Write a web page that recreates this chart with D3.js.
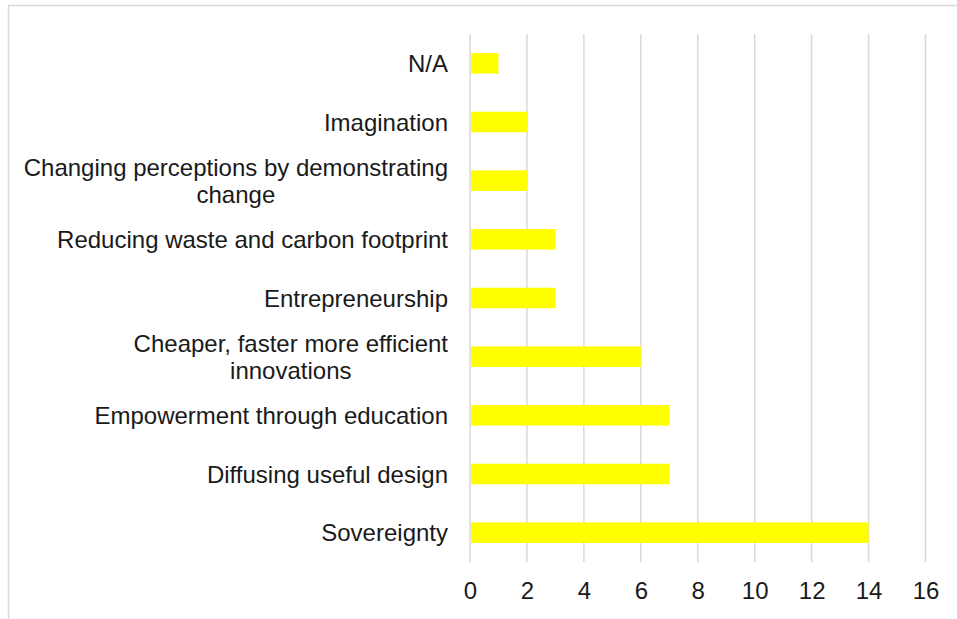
<!DOCTYPE html>
<html>
<head>
<meta charset="utf-8">
<script src="https://cdn.jsdelivr.net/npm/d3@7"></script>
<style>
  html, body { margin: 0; padding: 0; background: #fff; }
  svg { display: block; }
  text { font-family: "Liberation Sans", Arial, Helvetica, sans-serif; fill: #1a1a1a; }
</style>
</head>
<body>
<svg id="chart" width="957" height="619"></svg>
<script>
const categories = [
  "N/A",
  "Imagination",
  "Changing perceptions by demonstrating change",
  "Reducing waste and carbon footprint",
  "Entrepreneurship",
  "Cheaper, faster more efficient innovations",
  "Empowerment through education",
  "Diffusing useful design",
  "Sovereignty"
];
const labelLines = [
  ["N/A"],
  ["Imagination"],
  ["Changing perceptions by demonstrating", "change"],
  ["Reducing waste and carbon footprint"],
  ["Entrepreneurship"],
  ["Cheaper, faster more efficient", "innovations"],
  ["Empowerment through education"],
  ["Diffusing useful design"],
  ["Sovereignty"]
];
const values = [1, 2, 2, 3, 3, 6, 7, 7, 14];
const tickValues = [0, 2, 4, 6, 8, 10, 12, 14, 16];

const svg = d3.select("#chart");
const fontSize = 24;
const lineH = 27;

// outer frame (partially cropped)
svg.append("rect")
  .attr("x", 8.5).attr("y", 5.5)
  .attr("width", 1200).attr("height", 1200)
  .attr("fill", "none").attr("stroke", "#d9d9d9").attr("stroke-width", 1.5);

const x = d3.scaleLinear().domain([0, 16]).range([470, 925.5]);
const y = d3.scaleBand().domain(categories).range([34, 562]).paddingInner(0.65).paddingOuter(0.325);

// gridlines
svg.append("g").selectAll("line").data(tickValues).join("line")
  .attr("x1", d => x(d)).attr("x2", d => x(d))
  .attr("y1", 34).attr("y2", 562)
  .attr("stroke", "#d9d9d9").attr("stroke-width", 1.5);

// bars
svg.append("g").selectAll("rect").data(values).join("rect")
  .attr("x", x(0) + 1)
  .attr("y", (d, i) => y(categories[i]))
  .attr("width", d => x(d) - x(0) - 1)
  .attr("height", y.bandwidth())
  .attr("fill", "#ffff00");

// x axis tick labels
const xAxis = d3.axisBottom(x).tickValues(tickValues).tickSize(0).tickPadding(0);
const gx = svg.append("g").attr("transform", "translate(0,579)").call(xAxis);
gx.select(".domain").remove();
gx.selectAll("text")
  .attr("font-size", fontSize)
  .attr("font-family", "'Liberation Sans', Arial, sans-serif")
  .attr("fill", "#1a1a1a")
  .attr("dy", "0.83em");

// category labels
const labelRight = 448;
const lg = svg.append("g");
categories.forEach((c, i) => {
  const lines = labelLines[i];
  const cy = y(c) + y.bandwidth() / 2;
  const t = lg.append("text")
    .attr("font-size", fontSize)
    .attr("text-anchor", "middle");
  const widths = lines.map(l => {
    const tmp = lg.append("text").attr("font-size", fontSize).text(l);
    const w = tmp.node().getComputedTextLength();
    tmp.remove();
    return w;
  });
  const maxW = d3.max(widths);
  const centerX = labelRight - maxW / 2;
  const firstBaseline = cy - (lines.length - 1) * lineH / 2 + fontSize * 0.36;
  lines.forEach((l, j) => {
    t.append("tspan")
      .attr("x", centerX)
      .attr("y", firstBaseline + j * lineH)
      .text(l);
  });
});
</script>
</body>
</html>
